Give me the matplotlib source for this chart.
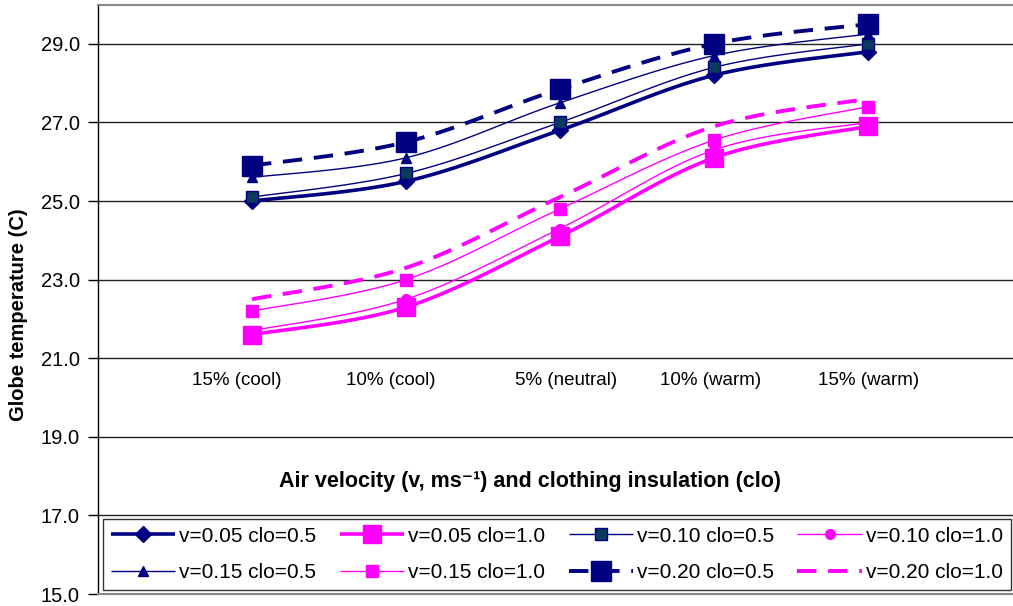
import numpy as np
import matplotlib
matplotlib.use("Agg")
import matplotlib.pyplot as plt

plt.rcParams['font.family'] = ['Liberation Sans', 'DejaVu Sans']

categories = ["15% (cool)", "10% (cool)", "5% (neutral)", "10% (warm)", "15% (warm)"]
v005_clo05 = [25.0, 25.5, 26.8, 28.2, 28.8]
v005_clo10 = [21.6, 22.3, 24.1, 26.1, 26.9]
v010_clo05 = [25.1, 25.7, 27.0, 28.4, 29.0]
v010_clo10 = [21.7, 22.5, 24.3, 26.3, 27.0]
v015_clo05 = [25.6, 26.1, 27.5, 28.7, 29.25]
v015_clo10 = [22.2, 23.0, 24.8, 26.55, 27.4]
v020_clo05 = [25.9, 26.5, 27.85, 29.0, 29.5]
v020_clo10 = [22.5, 23.3, 25.1, 26.9, 27.6]
labels = ["v=0.05 clo=0.5", "v=0.05 clo=1.0", "v=0.10 clo=0.5", "v=0.10 clo=1.0",
          "v=0.15 clo=0.5", "v=0.15 clo=1.0", "v=0.20 clo=0.5", "v=0.20 clo=1.0"]
yticks = [15.0, 17.0, 19.0, 21.0, 23.0, 25.0, 27.0, 29.0]

NAVY = '#000080'
MAG = '#FF00FF'


def smooth(x, y, n=30):
    """Excel-like smoothed curve (cubic Bezier through the points)."""
    x = np.asarray(x, float)
    y = np.asarray(y, float)
    P = np.column_stack([x, y])
    Pp = np.vstack([P[0], P, P[-1]])
    out = []
    t = np.linspace(0, 1, n)[:, None]
    for i in range(len(P) - 1):
        p0, p1, p2, p3 = Pp[i], Pp[i + 1], Pp[i + 2], Pp[i + 3]
        c1 = p1 + (p2 - p0) / 6.0
        c2 = p2 - (p3 - p1) / 6.0
        seg = ((1 - t) ** 3) * p1 + 3 * ((1 - t) ** 2) * t * c1 + 3 * (1 - t) * t ** 2 * c2 + t ** 3 * p2
        out.append(seg if i == 0 else seg[1:])
    out = np.vstack(out)
    return out[:, 0], out[:, 1]


fig = plt.figure(figsize=(10.13, 6.06), dpi=100)
ax = fig.add_axes([98 / 1013, 1 - 594 / 606, 1 - 98 / 1013 + 0.001, (594 - 4.5) / 606])

xs = np.arange(1, len(categories) + 1)

styles = [
    (v005_clo05, dict(color=NAVY, lw=2.6, marker='D', ms=8, mfc=NAVY, mec=NAVY)),
    (v005_clo10, dict(color=MAG, lw=2.6, marker='s', ms=13, mfc=MAG, mec=MAG)),
    (v010_clo05, dict(color=NAVY, lw=1.0, marker='s', ms=8, mfc='#0a3a5c', mec=NAVY)),
    (v010_clo10, dict(color=MAG, lw=1.0, marker='o', ms=7, mfc=MAG, mec=MAG)),
    (v015_clo05, dict(color=NAVY, lw=1.0, marker='^', ms=7, mfc=NAVY, mec=NAVY)),
    (v015_clo10, dict(color=MAG, lw=1.0, marker='s', ms=8.5, mfc=MAG, mec=MAG)),
    (v020_clo05, dict(color=NAVY, lw=2.8, marker='s', ms=14, mfc=NAVY, mec=NAVY, dashes=(5, 3))),
    (v020_clo10, dict(color=MAG, lw=2.8, marker=None, dashes=(5, 3))),
]

handles = []
zorder = [3, 3, 4, 4, 4, 4, 5, 5]
for (vals, st), lab, z in zip(styles, labels, zorder):
    sx, sy = smooth(xs, vals)
    st = dict(st)
    mk = st.pop('marker')
    ms = st.pop('ms', None)
    mfc = st.pop('mfc', None)
    mec = st.pop('mec', None)
    ax.plot(sx, sy, zorder=z, solid_capstyle='butt', dash_capstyle='butt', **st)
    if mk is not None:
        ax.plot(xs, vals, linestyle='none', marker=mk, ms=ms, mfc=mfc, mec=mec, zorder=z + 0.5)
    h, = ax.plot([], [], marker=mk, ms=ms, mfc=mfc, mec=mec,
                 solid_capstyle='butt', dash_capstyle='butt', **st)
    h.set_label(lab)
    handles.append(h)

ax.set_xlim(0, (1013 - 98) / 154 + 0.006)
ax.set_ylim(15, 30)
ax.set_yticks(yticks)
ax.set_yticklabels([f"{v:.1f}" for v in yticks])
ax.tick_params(axis='y', direction='out', length=7, width=1, labelsize=14.5, pad=6)
ax.set_xticks([])
ax.grid(axis='y', color='#222222', lw=1.0)
ax.set_axisbelow(True)
ax.spines['right'].set_visible(False)
ax.spines['top'].set_color('#888888')
ax.spines['top'].set_linewidth(1.5)
ax.spines['bottom'].set_color('#888888')
ax.spines['bottom'].set_linewidth(1.5)
ax.spines['left'].set_color('#000000')
ax.spines['left'].set_linewidth(1.0)

offsets = [-0.1, -0.1, 0.04, -0.02, 0.0]
for i, (c, off) in enumerate(zip(categories, offsets)):
    ax.text(xs[i] + off, 20.42, c, ha='center', va='center', fontsize=13.5)

ax.text(0.472, 0.19, "Air velocity (v, ms\u207b\u00b9) and clothing insulation (clo)",
        transform=ax.transAxes, ha='center', va='center', fontsize=15.5, fontweight='bold')

fig.text(19 / 1013, 1 - 315 / 606, "Globe temperature (C)", rotation=90,
         ha='center', va='center', fontsize=14.5, fontweight='bold')

order = [0, 4, 1, 5, 2, 6, 3, 7]
x0 = (103 - 98) / 915
x1 = (1010 - 98) / 915
y0 = (594 - 590) / 589.5
y1 = (594 - 515) / 589.5
leg = ax.legend([handles[i] for i in order], [labels[i] for i in order], ncol=4,
                loc='lower left', bbox_to_anchor=(x0, y0, x1 - x0, y1 - y0), mode='expand',
                fontsize=15, frameon=True, fancybox=False, edgecolor='black',
                handlelength=3.1, handletextpad=0.2, columnspacing=0.4,
                borderaxespad=0, borderpad=0.37, labelspacing=0.85)
leg.get_frame().set_linewidth(1.0)
leg.set_zorder(10)

fig.savefig("out.png", dpi=100)
